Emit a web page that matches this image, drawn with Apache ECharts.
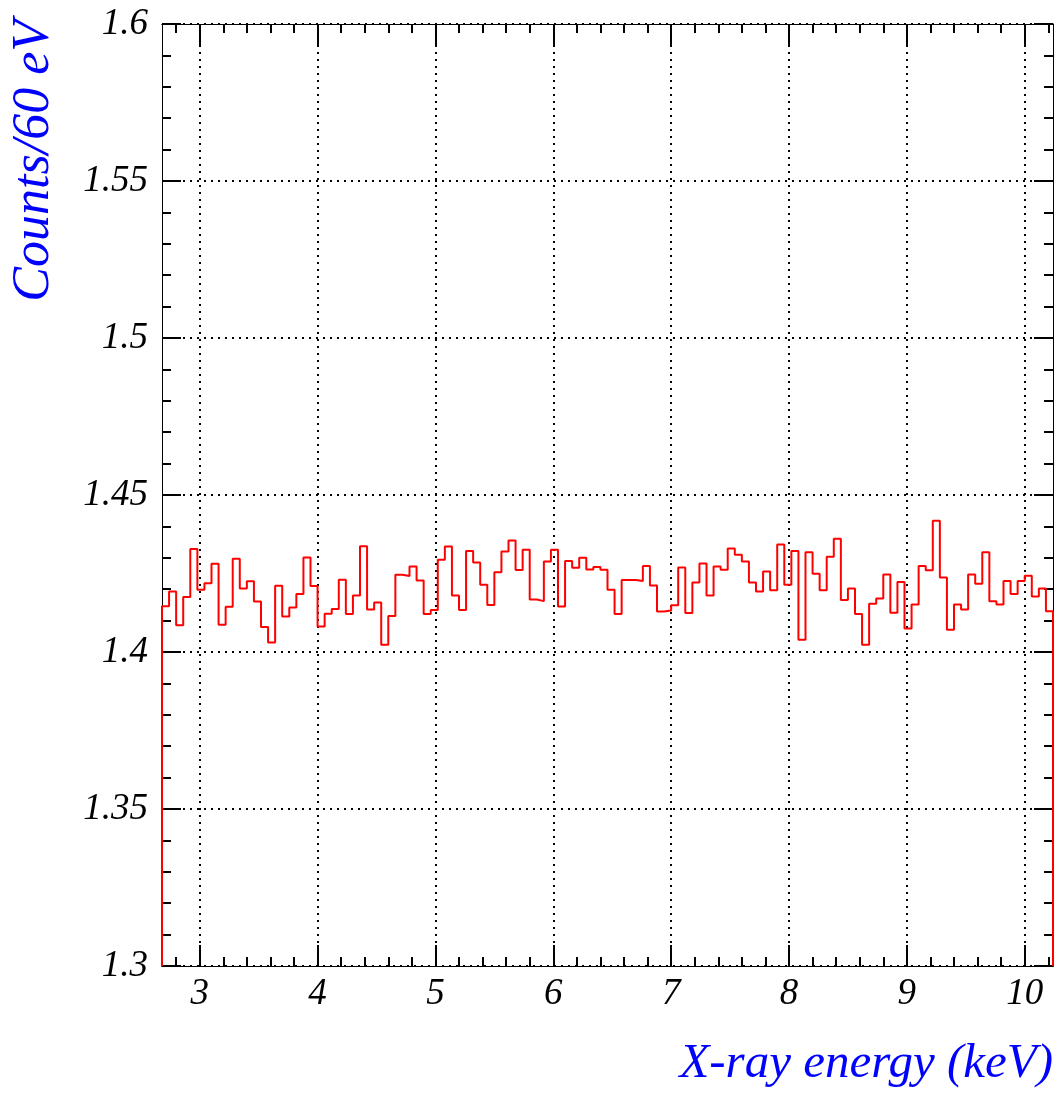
<!DOCTYPE html>
<html>
<head>
<meta charset="utf-8">
<title>Counts/60 eV</title>
<script src="https://cdn.jsdelivr.net/npm/echarts@6/dist/echarts.min.js"></script>
<style>
    html, body { margin: 0; padding: 0; background: #fff; }
    #chart { width: 1059px; height: 1095px; }
</style>
</head>
<body>
<div id="chart"></div>
<script>
    // 直方图，每个 bin 60 eV
    const binStart = 2.68;
    const binWidth = 0.06;
    const xMin = 2.68;
    const xMax = 10.24;
    const counts = [
        1.4146, 1.4193, 1.4085, 1.4175, 1.4328, 1.4198, 1.4219, 1.4281, 1.4087, 1.4144,
        1.4297, 1.4202, 1.4225, 1.4161, 1.4080, 1.4030, 1.4211, 1.4113, 1.4142, 1.4185,
        1.4301, 1.4210, 1.4081, 1.4122, 1.4137, 1.4230, 1.4121, 1.4180, 1.4337, 1.4135,
        1.4158, 1.4023, 1.4115, 1.4246, 1.4242, 1.4272, 1.4228, 1.4121, 1.4134, 1.4294,
        1.4336, 1.4180, 1.4134, 1.4322, 1.4285, 1.4214, 1.4150, 1.4254, 1.4320, 1.4355,
        1.4261, 1.4326, 1.4167, 1.4162, 1.4288, 1.4326, 1.4145, 1.4290, 1.4268, 1.4300,
        1.4263, 1.4271, 1.4262, 1.4198, 1.4121, 1.4229, 1.4229, 1.4226, 1.4274, 1.4212,
        1.4129, 1.4132, 1.4149, 1.4269, 1.4124, 1.4221, 1.4282, 1.4180, 1.4272, 1.4262,
        1.4330, 1.4310, 1.4288, 1.4221, 1.4193, 1.4256, 1.4197, 1.4342, 1.4214, 1.4322,
        1.4039, 1.4318, 1.4249, 1.4197, 1.4303, 1.4361, 1.4166, 1.4202, 1.4121, 1.4023,
        1.4154, 1.4170, 1.4247, 1.4125, 1.4223, 1.4075, 1.4151, 1.4274, 1.4260, 1.4418,
        1.4237, 1.4071, 1.4151, 1.4135, 1.4247, 1.4217, 1.4318, 1.4162, 1.4151, 1.4226,
        1.4185, 1.4226, 1.4243, 1.4177, 1.4202, 1.4130
    ];
    const xMajorTicks = [3, 4, 5, 6, 7, 8, 9, 10];
    const xMinorTicks = [2.8, 3.0, 3.2, 3.4, 3.6, 3.8, 4.0, 4.2, 4.4, 4.6, 4.8, 5.0, 5.2, 5.4, 5.6, 5.8,
        6.0, 6.2, 6.4, 6.6, 6.8, 7.0, 7.2, 7.4, 7.6, 7.8, 8.0, 8.2, 8.4, 8.6, 8.8, 9.0, 9.2, 9.4,
        9.6, 9.8, 10.0, 10.2];
    const yMin = 1.3;
    const yMax = 1.6;
    const yStep = 0.05;

    // ROOT 风格的阶梯线，两端落到底
    const histData = [[binStart, yMin]];
    counts.forEach(function (v, i) {
        histData.push([binStart + i * binWidth, v]);
    });
    histData.push([binStart + counts.length * binWidth, counts[counts.length - 1]]);
    histData.push([binStart + counts.length * binWidth, yMin]);

    const labelFont = {
        color: '#000',
        fontFamily: 'Liberation Serif',
        fontStyle: 'italic',
        fontSize: 37
    };
    const gridDots = { color: '#000', width: 2, type: [2, 5] };

    function xAxisDef(position, ticks, len, withLabels) {
        return {
            type: 'value',
            position: position,
            min: xMin,
            max: xMax,
            axisLine: { show: true, onZero: false, lineStyle: { color: '#000', width: 1 } },
            axisTick: { show: true, inside: true, length: len, customValues: ticks, lineStyle: { color: '#000', width: 2 } },
            axisLabel: withLabels ? Object.assign({ show: true, margin: 10, customValues: ticks }, labelFont) : { show: false },
            splitLine: withLabels ? { show: true, lineStyle: gridDots } : { show: false },
            minorTick: { show: false }
        };
    }

    function yAxisDef(position, withLabels) {
        return {
            type: 'value',
            position: position,
            min: yMin,
            max: yMax,
            interval: yStep,
            axisLine: { show: true, onZero: false, lineStyle: { color: '#000', width: 1 } },
            axisTick: { show: true, inside: true, length: 19, lineStyle: { color: '#000', width: 2 } },
            minorTick: { show: true, splitNumber: 5, length: 9, lineStyle: { color: '#000', width: 2 } },
            axisLabel: withLabels ? Object.assign({ show: true, margin: 14 }, labelFont) : { show: false },
            splitLine: withLabels ? { show: true, lineStyle: gridDots } : { show: false }
        };
    }

    const chart = echarts.init(document.getElementById('chart'));
    chart.setOption({
        animation: false,
        backgroundColor: '#fff',
        grid: { left: 162, right: 6, top: 24, bottom: 129, containLabel: false },
        xAxis: [
            xAxisDef('bottom', xMajorTicks, 21, true),
            xAxisDef('bottom', xMinorTicks, 9, false),
            xAxisDef('top', xMajorTicks, 21, false),
            xAxisDef('top', xMinorTicks, 9, false)
        ],
        yAxis: [
            yAxisDef('left', true),
            yAxisDef('right', false)
        ],
        graphic: [
            {
                type: 'text',
                x: 34,
                y: 20,
                rotation: Math.PI / 2,
                style: {
                    text: 'Counts/60 eV',
                    fill: '#0000ff',
                    font: 'italic 52px "Liberation Serif"',
                    align: 'right',
                    verticalAlign: 'middle'
                }
            },
            {
                type: 'text',
                x: 1053,
                y: 1064,
                style: {
                    text: 'X-ray energy (keV)',
                    fill: '#0000ff',
                    font: 'italic 49px "Liberation Serif"',
                    align: 'right',
                    verticalAlign: 'middle'
                }
            }
        ],
        series: [{
            type: 'line',
            step: 'end',
            xAxisIndex: 0,
            yAxisIndex: 0,
            symbol: 'none',
            lineStyle: { color: '#ff0000', width: 2 },
            data: histData
        }]
    });
</script>
</body>
</html>
